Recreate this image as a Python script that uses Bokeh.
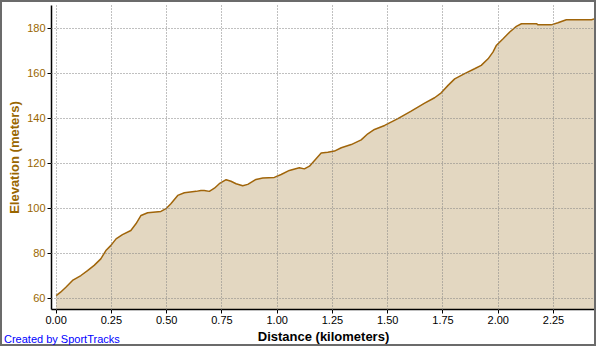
from bokeh.plotting import figure
from bokeh.models import Range1d, FixedTicker, NumeralTickFormatter, Div
from bokeh.layouts import column
from bokeh.embed import file_html
from bokeh.resources import INLINE

distance_km = [0.0, 0.02, 0.044, 0.074, 0.112, 0.142, 0.172, 0.202, 0.225, 0.248, 0.271, 0.30,
               0.338, 0.361, 0.384, 0.414, 0.474, 0.497, 0.519, 0.55, 0.58, 0.633, 0.655, 0.67,
               0.693, 0.716, 0.738, 0.769, 0.791, 0.814, 0.844, 0.867, 0.904, 0.935, 0.987,
               1.018, 1.055, 1.10, 1.123, 1.146, 1.176, 1.199, 1.229, 1.259, 1.29, 1.335, 1.38,
               1.41, 1.44, 1.486, 1.546, 1.606, 1.667, 1.712, 1.742, 1.773, 1.803, 1.848, 1.893,
               1.923, 1.954, 1.976, 1.991, 2.022, 2.052, 2.082, 2.105, 2.173, 2.18, 2.24, 2.27,
               2.308, 2.422, 2.437]
elevation_m = [61.3, 62.8, 65.0, 68.0, 70.2, 72.4, 74.7, 77.6, 81.3, 83.6, 86.5, 88.4,
               90.2, 93.2, 96.9, 98.1, 98.7, 99.9, 102.1, 105.8, 107.0, 107.6, 108.0, 108.0,
               107.6, 109.0, 111.0, 112.8, 112.1, 111.0, 110.1, 110.7, 112.9, 113.5, 113.8,
               115.1, 116.9, 118.1, 117.6, 118.8, 122.1, 124.6, 125.0, 125.5, 127.0, 128.4, 130.5,
               133.2, 135.1, 136.9, 139.9, 143.3, 146.8, 149.2, 151.4, 154.7, 157.6, 159.9, 162.1,
               163.6, 166.5, 169.5, 172.4, 175.4, 178.4, 180.9, 182.1, 182.1, 181.6, 181.6, 182.5,
               183.9, 183.9, 184.3]
x_ticks = [0.0, 0.25, 0.5, 0.75, 1.0, 1.25, 1.5, 1.75, 2.0, 2.25]
y_ticks = [60, 80, 100, 120, 140, 160, 180]

brown = "#996600"
font = "Liberation Sans"

p = figure(width=596, height=346, output_backend="svg", toolbar_location=None,
           x_range=Range1d(-0.021, 2.44), y_range=Range1d(55.1, 190.2),
           min_border_left=49, min_border_right=3, min_border_top=3, min_border_bottom=39,
           background_fill_color="white", border_fill_color="white")
p.styles = {"border": "2px solid #6b6b6b"}
p.outline_line_color = None

p.varea(x=distance_km, y1=0, y2=elevation_m, fill_color="#e3d7c1")
p.line(x=distance_km, y=elevation_m, line_color="#a0650a", line_width=1.5)

p.xaxis.ticker = FixedTicker(ticks=x_ticks)
p.yaxis.ticker = FixedTicker(ticks=y_ticks)
p.xaxis.formatter = NumeralTickFormatter(format="0.00")
p.yaxis.formatter = NumeralTickFormatter(format="0")
for ax in (p.xaxis, p.yaxis):
    ax.minor_tick_line_color = None
    ax.major_tick_in = 0
    ax.major_tick_out = 4
    ax.axis_line_color = "black"
    ax.axis_line_width = 1.5
    ax.major_tick_line_color = "black"
    ax.major_label_text_font = font
    ax.major_label_text_font_size = "11px"
    ax.axis_label_text_font = font
    ax.axis_label_text_font_size = "13px"
    ax.axis_label_text_font_style = "bold"
    ax.major_label_standoff = 2
    ax.axis_label_standoff = 2

p.xaxis.axis_label = "Distance (kilometers)"
p.yaxis.axis_label = "Elevation (meters)"
p.xaxis.major_label_text_color = "black"
p.xaxis.axis_label_text_color = "black"
p.yaxis.major_label_text_color = brown
p.yaxis.axis_label_text_color = brown

for g in (p.xgrid, p.ygrid):
    g.grid_line_color = "#808080"
    g.grid_line_dash = "1 2"
    g.grid_line_width = 1
    g.level = "overlay"

credit = Div(text="Created by SportTracks", margin=(-14, 0, 0, 4),
             styles={"color": "#0000ff", "font-family": font, "font-size": "11px",
                     "white-space": "nowrap"})

layout = column(p, credit)
open("out.html", "w").write(file_html(layout, INLINE))
